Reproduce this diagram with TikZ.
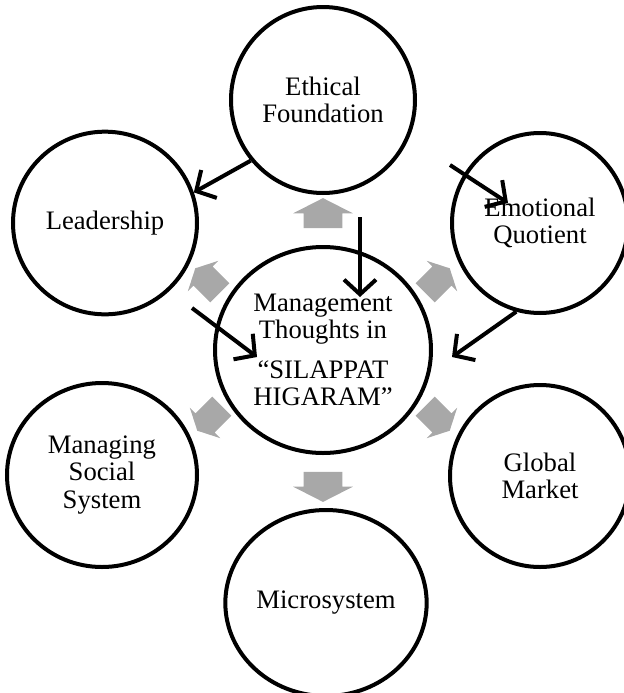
\documentclass[tikz,border=0pt]{standalone}
\usepackage{fontspec}
\setmainfont{Liberation Serif}
\usetikzlibrary{arrows.meta,shapes.geometric,shapes.arrows}
\definecolor{arrowgray}{RGB}{168,168,168}

\begin{document}
\begin{tikzpicture}[x=0.75pt, y=-0.75pt,
        every node/.style={font=\fontsize{20}{20.5}\selectfont, align=center},
        circ/.style={ellipse, draw, line width=3pt, inner sep=0pt},
        garrow/.style={single arrow, fill=arrowgray, inner xsep=0pt, inner ysep=14.25pt,
          minimum height=22.5pt, single arrow head extend=7.9pt,
          single arrow tip angle=126},
        sgarrow/.style={garrow, inner ysep=10pt, minimum height=26pt,
          single arrow head extend=6pt},
        arrow/.style={-{Straight Barb[length=11pt,width=24pt]}, line width=3pt}]
        \useasboundingbox (0,0) rectangle (624,693);
        % outer ring
        \node[circ, minimum width=138pt, minimum height=139.5pt] (eth) at (323,100) {Ethical\\Foundation};
        \node[circ, minimum width=138pt, minimum height=137pt] (lead) at (105,223) {Leadership};
        \node[circ, minimum width=132pt, minimum height=135pt] (eq) at (540,223) {Emotional\\Quotient};
        \node[circ, minimum width=142.5pt, minimum height=138pt] (mss) at (102,475) {Managing\\Social\\System};
        \node[circ, minimum width=135pt, minimum height=136.5pt] (gm) at (540,476) {Global\\Market};
        \node[circ, minimum width=151pt, minimum height=139.5pt] (micro) at (326,603) {Microsystem};
        % hub
        \node[circ, minimum width=162pt, minimum height=154.5pt] (mt) at (323,350)
          {Management\\Thoughts in\\[9.5pt]“SILAPPAT\\HIGARAM”};
        % gray block arrows out of the hub
        \node[garrow, rotate=90] (gu) at (323,218) {};
        \node[garrow, rotate=270] (gd) at (323,482) {};
        \node[sgarrow, rotate=135] (gul) at (210,283) {};
        \node[sgarrow, rotate=45] (gur) at (435,283) {};
        \node[sgarrow, rotate=225] (gdl) at (212,416) {};
        \node[sgarrow, rotate=315] (gdr) at (435,416) {};
        % black arrows
        \coordinate (eqtail) at (450,165);
        \coordinate (eqtip) at (508,203);
        \coordinate (mttail) at (360,217);
        \coordinate (mttip) at (360,297);
        \coordinate (ldtail) at (192,308);
        \coordinate (ldtip) at (257,357);
        \coordinate (eqmt) at (452,357);
        \draw[arrow] (eth.220) -- (lead.19);
        \draw[arrow] (eqtail) -- (eqtip);
        \draw[arrow] (mttail) -- (mttip);
        \draw[arrow] (ldtail) -- (ldtip);
        \draw[arrow] (eq.255) -- (eqmt);
      \end{tikzpicture}
\end{document}
